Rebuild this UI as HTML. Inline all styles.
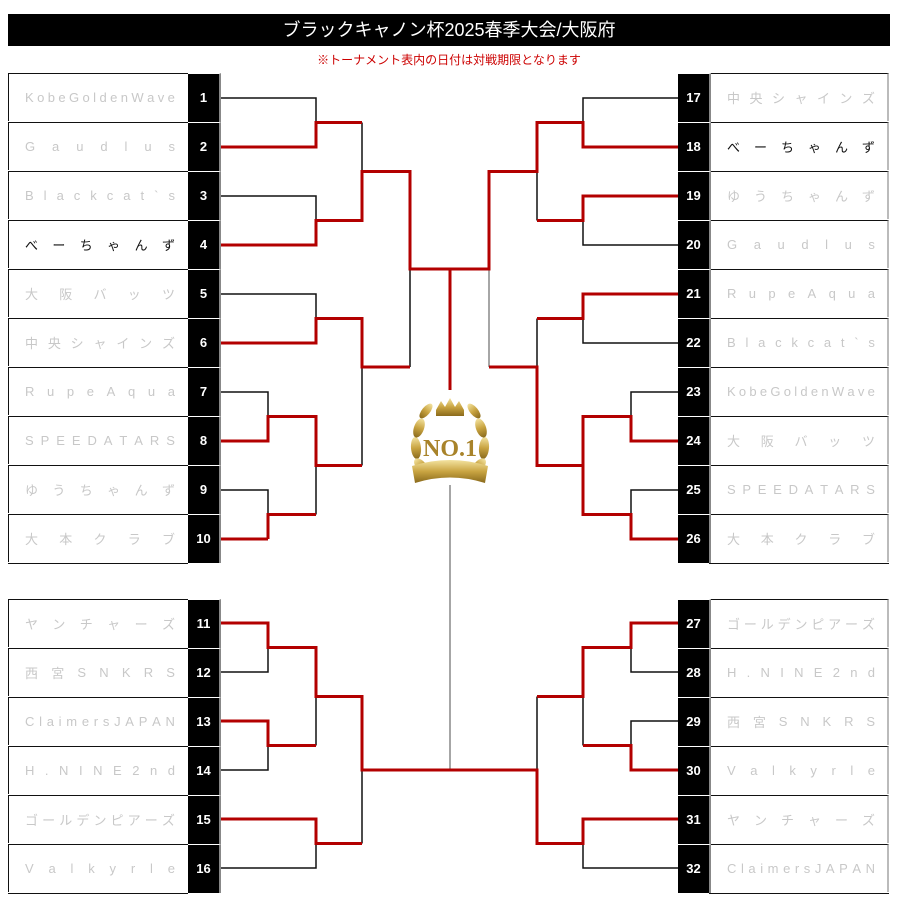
<!DOCTYPE html>
<html><head><meta charset="utf-8"><style>
body{margin:0;width:898px;height:909px;background:#fff;position:relative;overflow:hidden;font-family:"Liberation Sans","Noto Sans CJK JP",sans-serif}
.title{position:absolute;left:8px;top:14px;width:882px;height:32px;background:#000;color:#fff;font-size:18px;line-height:32px;text-align:center}
.note{position:absolute;left:0;top:51px;width:898px;text-align:center;color:#c00;font-size:12px}
.nm{position:absolute;height:48px;width:180px;box-sizing:border-box;border-top:1px solid #111;display:flex;justify-content:space-between;align-items:center;font-size:13px;color:#c8c8c8}
.L{left:8px;padding:0 13px 0 16px;border-left:1px solid #111}
.R{left:709px;padding:0 12px 0 18px;border-right:2px solid #bbb}
.blk{color:#111}
.num{position:absolute;width:31px;height:48px;background:#000;color:#fff;font-size:13px;font-weight:bold;text-align:center;line-height:48px;border-top:1px solid #fff}
.nl{left:188px;border-right:2px solid #888}
.nr{left:678px;border-right:2px solid #888}
.bot{position:absolute;height:1px;background:#111;width:180px}
svg{position:absolute;left:0;top:0}
</style></head><body>
<div class="title">ブラックキャノン杯2025春季大会/大阪府</div>
<div class="note">※トーナメント表内の日付は対戦期限となります</div>

<div class="nm L" style="top:73px"><span>K</span><span>o</span><span>b</span><span>e</span><span>G</span><span>o</span><span>l</span><span>d</span><span>e</span><span>n</span><span>W</span><span>a</span><span>v</span><span>e</span></div>
<div class="nm L" style="top:122px"><span>G</span><span>a</span><span>u</span><span>d</span><span>l</span><span>u</span><span>s</span></div>
<div class="nm L" style="top:171px"><span>B</span><span>l</span><span>a</span><span>c</span><span>k</span><span>c</span><span>a</span><span>t</span><span>`</span><span>s</span></div>
<div class="nm L blk" style="top:220px"><span>べ</span><span>ー</span><span>ち</span><span>ゃ</span><span>ん</span><span>ず</span></div>
<div class="nm L" style="top:269px"><span>大</span><span>阪</span><span>バ</span><span>ッ</span><span>ツ</span></div>
<div class="nm L" style="top:318px"><span>中</span><span>央</span><span>シ</span><span>ャ</span><span>イ</span><span>ン</span><span>ズ</span></div>
<div class="nm L" style="top:367px"><span>R</span><span>u</span><span>p</span><span>e</span><span>A</span><span>q</span><span>u</span><span>a</span></div>
<div class="nm L" style="top:416px"><span>S</span><span>P</span><span>E</span><span>E</span><span>D</span><span>A</span><span>T</span><span>A</span><span>R</span><span>S</span></div>
<div class="nm L" style="top:465px"><span>ゆ</span><span>う</span><span>ち</span><span>ゃ</span><span>ん</span><span>ず</span></div>
<div class="nm L" style="top:514px"><span>大</span><span>本</span><span>ク</span><span>ラ</span><span>ブ</span></div>
<div class="bot" style="left:8px;top:563px"></div>

<div class="nm L" style="top:599px"><span>ヤ</span><span>ン</span><span>チ</span><span>ャ</span><span>ー</span><span>ズ</span></div>
<div class="nm L" style="top:648px"><span>西</span><span>宮</span><span>S</span><span>N</span><span>K</span><span>R</span><span>S</span></div>
<div class="nm L" style="top:697px"><span>C</span><span>l</span><span>a</span><span>i</span><span>m</span><span>e</span><span>r</span><span>s</span><span>J</span><span>A</span><span>P</span><span>A</span><span>N</span></div>
<div class="nm L" style="top:746px"><span>H</span><span>.</span><span>N</span><span>I</span><span>N</span><span>E</span><span>2</span><span>n</span><span>d</span></div>
<div class="nm L" style="top:795px"><span>ゴ</span><span>ー</span><span>ル</span><span>デ</span><span>ン</span><span>ピ</span><span>ア</span><span>ー</span><span>ズ</span></div>
<div class="nm L" style="top:844px"><span>V</span><span>a</span><span>l</span><span>k</span><span>y</span><span>r</span><span>l</span><span>e</span></div>
<div class="bot" style="left:8px;top:893px"></div>

<div class="nm R" style="top:73px"><span>中</span><span>央</span><span>シ</span><span>ャ</span><span>イ</span><span>ン</span><span>ズ</span></div>
<div class="nm R blk" style="top:122px"><span>べ</span><span>ー</span><span>ち</span><span>ゃ</span><span>ん</span><span>ず</span></div>
<div class="nm R" style="top:171px"><span>ゆ</span><span>う</span><span>ち</span><span>ゃ</span><span>ん</span><span>ず</span></div>
<div class="nm R" style="top:220px"><span>G</span><span>a</span><span>u</span><span>d</span><span>l</span><span>u</span><span>s</span></div>
<div class="nm R" style="top:269px"><span>R</span><span>u</span><span>p</span><span>e</span><span>A</span><span>q</span><span>u</span><span>a</span></div>
<div class="nm R" style="top:318px"><span>B</span><span>l</span><span>a</span><span>c</span><span>k</span><span>c</span><span>a</span><span>t</span><span>`</span><span>s</span></div>
<div class="nm R" style="top:367px"><span>K</span><span>o</span><span>b</span><span>e</span><span>G</span><span>o</span><span>l</span><span>d</span><span>e</span><span>n</span><span>W</span><span>a</span><span>v</span><span>e</span></div>
<div class="nm R" style="top:416px"><span>大</span><span>阪</span><span>バ</span><span>ッ</span><span>ツ</span></div>
<div class="nm R" style="top:465px"><span>S</span><span>P</span><span>E</span><span>E</span><span>D</span><span>A</span><span>T</span><span>A</span><span>R</span><span>S</span></div>
<div class="nm R" style="top:514px"><span>大</span><span>本</span><span>ク</span><span>ラ</span><span>ブ</span></div>
<div class="bot" style="left:709px;top:563px"></div>

<div class="nm R" style="top:599px"><span>ゴ</span><span>ー</span><span>ル</span><span>デ</span><span>ン</span><span>ピ</span><span>ア</span><span>ー</span><span>ズ</span></div>
<div class="nm R" style="top:648px"><span>H</span><span>.</span><span>N</span><span>I</span><span>N</span><span>E</span><span>2</span><span>n</span><span>d</span></div>
<div class="nm R" style="top:697px"><span>西</span><span>宮</span><span>S</span><span>N</span><span>K</span><span>R</span><span>S</span></div>
<div class="nm R" style="top:746px"><span>V</span><span>a</span><span>l</span><span>k</span><span>y</span><span>r</span><span>l</span><span>e</span></div>
<div class="nm R" style="top:795px"><span>ヤ</span><span>ン</span><span>チ</span><span>ャ</span><span>ー</span><span>ズ</span></div>
<div class="nm R" style="top:844px"><span>C</span><span>l</span><span>a</span><span>i</span><span>m</span><span>e</span><span>r</span><span>s</span><span>J</span><span>A</span><span>P</span><span>A</span><span>N</span></div>
<div class="bot" style="left:709px;top:893px"></div>

<div class="num nl" style="top:73px">1</div><div class="num nl" style="top:122px">2</div><div class="num nl" style="top:171px">3</div><div class="num nl" style="top:220px">4</div><div class="num nl" style="top:269px">5</div><div class="num nl" style="top:318px">6</div><div class="num nl" style="top:367px">7</div><div class="num nl" style="top:416px">8</div><div class="num nl" style="top:465px">9</div><div class="num nl" style="top:514px">10</div>
<div class="num nl" style="top:599px">11</div><div class="num nl" style="top:648px">12</div><div class="num nl" style="top:697px">13</div><div class="num nl" style="top:746px">14</div><div class="num nl" style="top:795px">15</div><div class="num nl" style="top:844px">16</div>
<div class="num nr" style="top:73px">17</div><div class="num nr" style="top:122px">18</div><div class="num nr" style="top:171px">19</div><div class="num nr" style="top:220px">20</div><div class="num nr" style="top:269px">21</div><div class="num nr" style="top:318px">22</div><div class="num nr" style="top:367px">23</div><div class="num nr" style="top:416px">24</div><div class="num nr" style="top:465px">25</div><div class="num nr" style="top:514px">26</div>
<div class="num nr" style="top:599px">27</div><div class="num nr" style="top:648px">28</div><div class="num nr" style="top:697px">29</div><div class="num nr" style="top:746px">30</div><div class="num nr" style="top:795px">31</div><div class="num nr" style="top:844px">32</div>

<svg width="898" height="909" viewBox="0 0 898 909">
<g fill="none" stroke="#111" stroke-width="1.5">
<path d="M221 98H316V122.5 M221 196H316V220.5 M362 122.5V171.5 M221 294H316V318.5 M221 392H268V416.5 M221 490H268V514.5 M316 465.5V514.5 M362 367V465.5 M410 269V367"/>
<path d="M678 98H583V122.5 M678 245H583V220.5 M537 171.5V220.5 M678 343H583V318.5 M678 392H631V416.5 M678 490H631V514.5 M537 318.5V367"/>
<path d="M221 672H268V647.5 M221 770H268V745.5 M316 696.5V745.5 M221 868H316V843.5 M362 770V843.5"/>
<path d="M678 672H631V647.5 M678 721H631V745.5 M583 696.5V745.5 M678 868H583V843.5 M537 696.5V770"/>
</g>
<g fill="none" stroke="#888" stroke-width="1.5"><path d="M489 269V367 M450 485V770"/></g>
<g fill="none" stroke="#b30000" stroke-width="3" stroke-linejoin="miter">
<path d="M221 147H316V122.5H362 M221 245H316V220.5H362V171.5H410V269H489V171.5H537V122.5H583V147H678 M450 269V390"/>
<path d="M221 343H316V318.5H362V367H410 M221 441H268V416.5H316V465.5H362"/>
<path d="M268 539V514.5H316 M221 539H268"/>
<path d="M678 196H583V220.5H537 M678 294H583V318.5H537 M678 441H631V416.5H583V514.5H631V539H678 M583 465.5H537V367H489"/>
<path d="M221 623H268V647.5H316V696.5H362V770H537V843.5H583V819H678 M221 721H268V745.5H316 M221 819H316V843.5H362"/>
<path d="M678 623H631V647.5H583V696.5H537 M678 770H631V745.5H583"/>
</g>
<defs><linearGradient id="gd" x1="0" y1="0" x2="0" y2="1"><stop offset="0" stop-color="#f3e3a0"/><stop offset=".5" stop-color="#c9a441"/><stop offset="1" stop-color="#8a6a1c"/></linearGradient></defs>
<g fill="url(#gd)" stroke="none">
<path d="M436 410l5-9 4 6 5-9 5 9 4-6 5 9v6h-28z"/>
<ellipse cx="416" cy="448" rx="5" ry="11" transform="rotate(-5 416 448)"/><ellipse cx="419" cy="428" rx="5" ry="10" transform="rotate(20 419 428)"/><ellipse cx="426" cy="411" rx="4" ry="9" transform="rotate(40 426 411)"/><ellipse cx="421" cy="466" rx="5" ry="9" transform="rotate(-40 421 466)"/>
<ellipse cx="484" cy="448" rx="5" ry="11" transform="rotate(5 484 448)"/><ellipse cx="481" cy="428" rx="5" ry="10" transform="rotate(-20 481 428)"/><ellipse cx="474" cy="411" rx="4" ry="9" transform="rotate(-40 474 411)"/><ellipse cx="479" cy="466" rx="5" ry="9" transform="rotate(40 479 466)"/>
<path d="M412 466q38-12 76 0l-3 17q-35-11-70 0z"/>
</g>
<text x="450" y="456" text-anchor="middle" font-family="Liberation Serif, serif" font-weight="bold" font-size="24" fill="#a8832a">NO.1</text>
</svg>
</body></html>
